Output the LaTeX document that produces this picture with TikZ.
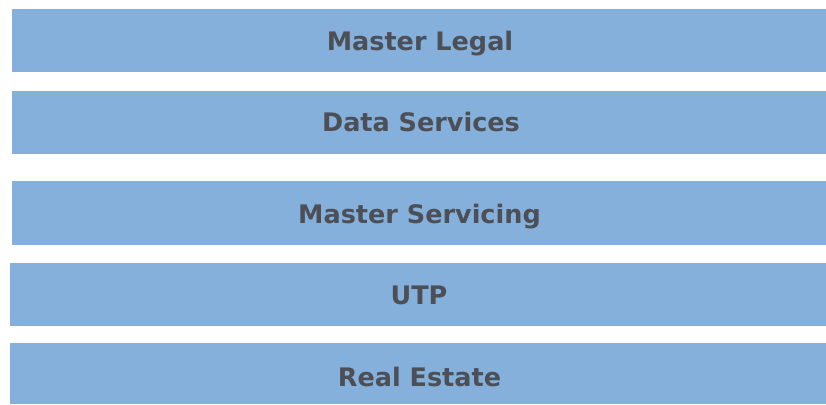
\documentclass[tikz,border=0pt]{standalone}
\usepackage{fontspec}
\setmainfont{DejaVu Sans}
\definecolor{barblue}{RGB}{133,176,219}
\definecolor{bartext}{RGB}{76,80,86}
\begin{document}
\begin{tikzpicture}[x=1pt,y=1pt,
  bar/.style={fill=barblue,draw=none},
  lbl/.style={text=bartext,font=\bfseries\fontsize{25.5}{28}\selectfont,inner sep=0pt,anchor=base}]
\useasboundingbox (0,0) rectangle (826,404);
\fill[white] (0,0) rectangle (826,404);
% bars (y flipped: tikz y = 404 - pixel y)
\path[bar] (12,332) rectangle (826,395);
\node[lbl] (b1) at (420,353) {Master Legal};
\path[bar] (12,250) rectangle (826,313);
\node[lbl] (b2) at (421,272) {Data Services};
\path[bar] (12,159) rectangle (826,223);
\node[lbl] (b3) at (419.5,180) {Master Servicing};
\path[bar] (10,78) rectangle (826,141);
\node[lbl] (b4) at (419,99) {UTP};
\path[bar] (10,0) rectangle (826,61);
\node[lbl] (b5) at (419.5,18) {Real Estate};
\end{tikzpicture}
\end{document}
